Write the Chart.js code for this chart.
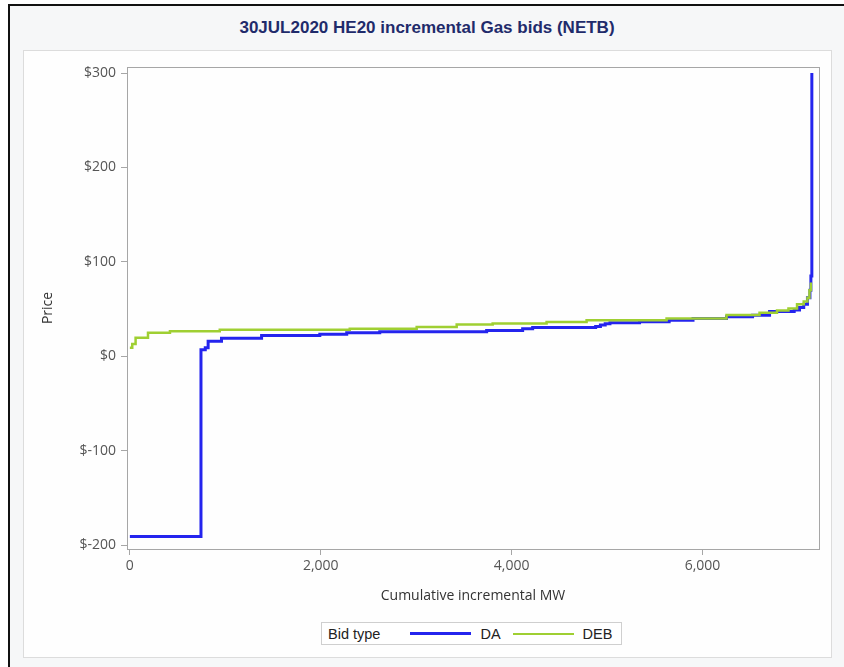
<!DOCTYPE html>
<html>
<head>
<meta charset="utf-8">
<script src="https://cdn.jsdelivr.net/npm/chart.js@4/dist/chart.umd.min.js"></script>
<style>
body { margin:0; background:#fff; font-family:"Liberation Sans", Arial, sans-serif; }
#frame { position:absolute; left:8px; top:4px; width:836px; height:663px; border-left:2px solid #111; border-top:2px solid #111; background:#f6f7f8; }
#title { position:absolute; left:10px; width:834px; top:18px; text-align:center; font-weight:bold; font-size:17px; color:#1f2b6b; }
#panel { position:absolute; left:23px; top:50px; width:807px; height:606px; border:1px solid #dcdcdc; background:#fefefe; }
#chart { position:absolute; left:0; top:0; }
#legend { position:absolute; left:297px; top:571px; height:21px; border:1px solid #cfcfcf; background:#fff; display:flex; align-items:center; padding:0 9px 0 6px; font-size:14.5px; color:#222; }
#legend .sw { display:inline-block; width:61px; margin:0 9px 0 0; }
</style>
</head>
<body>
<div id="frame"></div>
<div id="title">30JUL2020 HE20 incremental Gas bids (NETB)</div>
<div id="panel">
  <canvas id="chart" width="807" height="560"></canvas>
  <div id="legend"></div>
</div>
<script>
// bid stacks: each point = MW where the price steps to that value
var daMW    = [0, 745, 790, 820, 960, 1380, 1990, 2272, 2618, 3738, 4115, 4220, 4880, 4930, 4980, 5030, 5340, 5650, 5900, 6251, 6524, 6702, 6960, 7016, 7060, 7099, 7125, 7135, 7145];
var daPrice = [-191, 7, 9, 16, 19, 22, 23.4, 24.8, 26, 27.3, 29, 30.5, 31.5, 33, 34.5, 35.5, 36.5, 38, 40, 41.8, 43.3, 47.5, 49, 51.5, 55, 62, 70, 85, 300];

var debMW    = [0, 25, 60, 190, 420, 942, 2304, 3005, 3424, 3801, 4366, 4785, 5623, 6251, 6597, 6780, 6900, 6990, 7060, 7099, 7120, 7135];
var debPrice = [9, 13, 19.5, 24.8, 26.6, 28, 29, 31, 33.7, 34.8, 36.2, 38, 40, 43.6, 46, 48.5, 50.5, 55, 58, 62, 70, 78];

var xTicks = [0, 2000, 4000, 6000];
var yTicks = [-200, -100, 0, 100, 200, 300];

var seriesNames  = ["DA", "DEB"];
var seriesColors = ["#2424ee", "#9fcf32"];

function pts(xs, ys) {
    return xs.map(function (x, i) { return {x: x, y: ys[i]}; });
}

var tickFont = {family: "'Open Sans', sans-serif", size: 14};
var gray = "#a6a6a6";

// box around the plot area
var framePlugin = {
    id: "frame",
    afterDraw: function (c) {
        var a = c.chartArea, ctx = c.ctx;
        ctx.save();
        ctx.strokeStyle = gray;
        ctx.lineWidth = 1;
        ctx.strokeRect(Math.round(a.left) + 0.5, Math.round(a.top) + 0.5, Math.round(a.right - a.left), Math.round(a.bottom - a.top));
        ctx.restore();
    }
};

var chart = new Chart(document.getElementById("chart"), {
    type: "line",
    data: {
        datasets: [
            {label: seriesNames[0], data: pts(daMW, daPrice), borderColor: seriesColors[0], borderWidth: 3, stepped: "before", pointRadius: 0, order: 1},
            {label: seriesNames[1], data: pts(debMW, debPrice), borderColor: seriesColors[1], borderWidth: 2.5, stepped: "before", pointRadius: 0, order: 0}
        ]
    },
    options: {
        responsive: false,
        animation: false,
        layout: {padding: {top: 16, right: 12, left: 0, bottom: 0}},
        plugins: {legend: {display: false}, tooltip: {enabled: false}},
        scales: {
            x: {
                type: "linear",
                min: -30, max: 7220,
                afterBuildTicks: function (s) { s.ticks = xTicks.map(function (v) { return {value: v}; }); },
                afterFit: function (s) { s.height = 62; },
                ticks: {font: tickFont, color: "#555", padding: 3, maxRotation: 0,
                    callback: function (v) { return v.toLocaleString("en-US"); }},
                grid: {display: true, drawOnChartArea: false, tickLength: 6, color: gray},
                border: {color: gray},
                title: {display: true, text: "Cumulative incremental MW", font: {family: "'Open Sans', sans-serif", size: 14}, color: "#333", padding: {top: 0, bottom: 7}}
            },
            y: {
                min: -204.2, max: 306.4,
                afterBuildTicks: function (s) { s.ticks = yTicks.map(function (v) { return {value: v}; }); },
                afterFit: function (s) { s.width = 103; },
                ticks: {font: tickFont, color: "#555", padding: 5,
                    callback: function (v) { return "$" + v; }},
                grid: {display: true, drawOnChartArea: false, tickLength: 6, color: gray},
                border: {color: gray},
                title: {display: true, text: "Price", font: {family: "'Open Sans', sans-serif", size: 14}, color: "#333", padding: {top: 16, bottom: 0}}
            }
        }
    },
    plugins: [framePlugin]
});

// legend with group title, built from the datasets
var lg = document.getElementById("legend");
var h = '<span style="margin-right:30px">Bid type</span>';
chart.data.datasets.forEach(function (d, i) {
    h += '<span class="sw" style="border-top:' + (i == 0 ? 3 : 2) + 'px solid ' + d.borderColor + '"></span>';
    h += '<span style="margin-right:' + (i == 0 ? 12 : 0) + 'px">' + d.label + '</span>';
});
lg.innerHTML = h;
</script>
</body>
</html>
